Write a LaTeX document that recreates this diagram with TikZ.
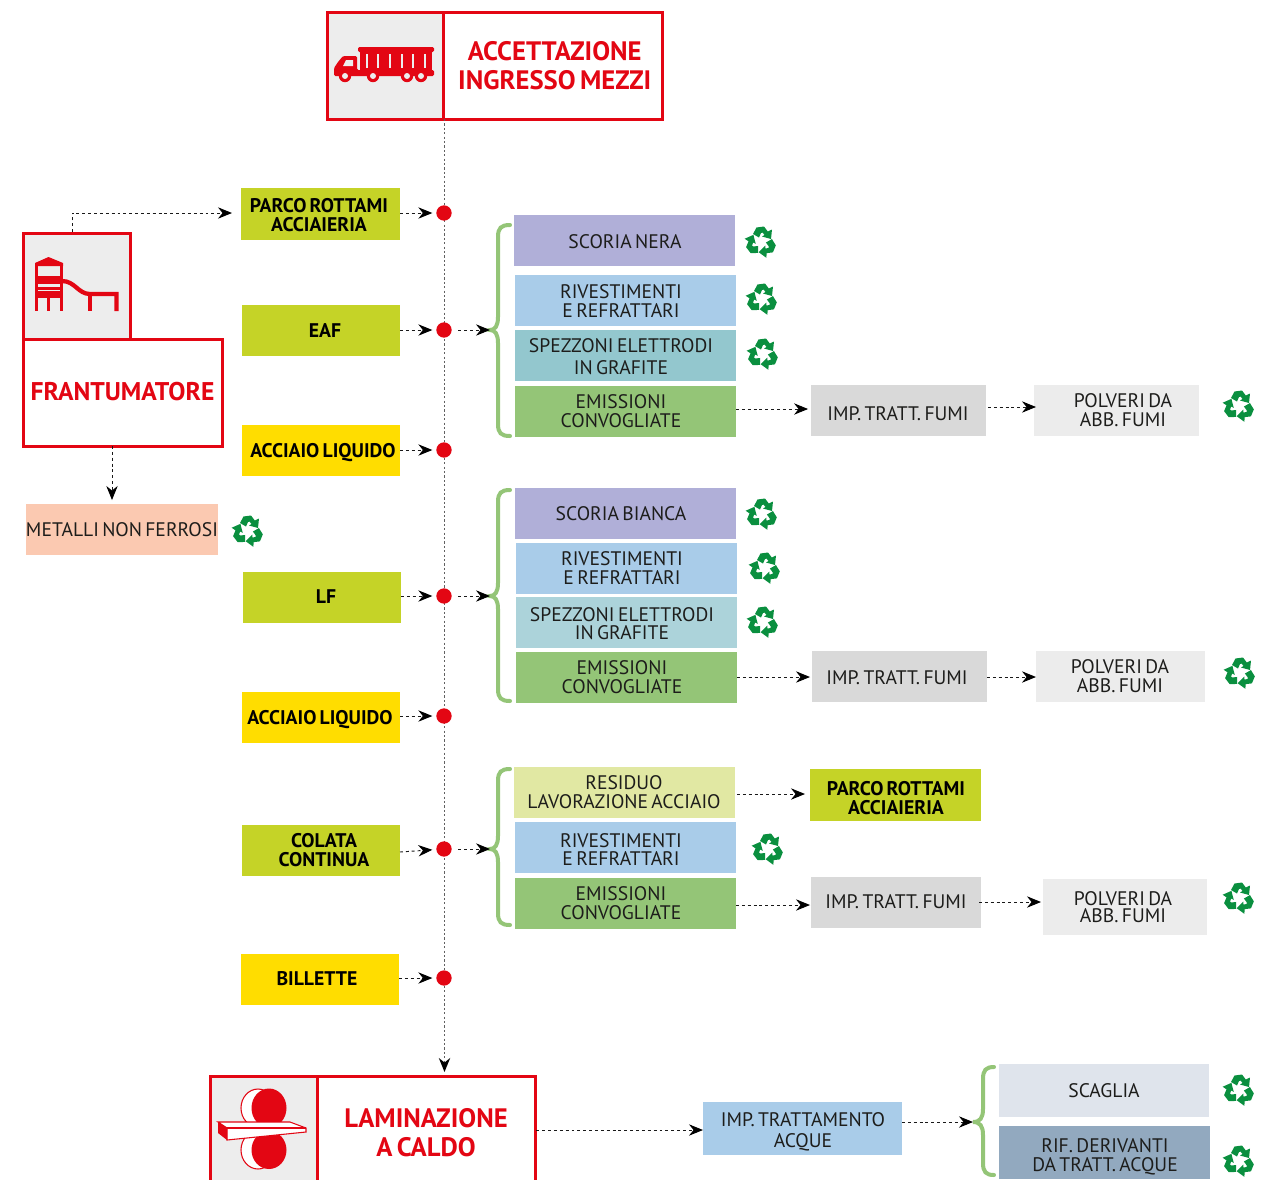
\documentclass[tikz,border=0pt]{standalone}
\usepackage{fontspec}
\setmainfont[WordSpace=0.65]{PT Sans}
\usetikzlibrary{arrows.meta,calc}
\definecolor{rd}{HTML}{E30613}
\definecolor{lime}{HTML}{C5D327}
\definecolor{yel}{HTML}{FFDD00}
\definecolor{lil}{HTML}{B0AFD8}
\definecolor{sky}{HTML}{A9CCE9}
\definecolor{teal1}{HTML}{93C7CE}
\definecolor{teal2}{HTML}{ACD3DA}
\definecolor{grn}{HTML}{94C577}
\definecolor{pale}{HTML}{E1E8A3}
\definecolor{gr1}{HTML}{D9D9D9}
\definecolor{gr2}{HTML}{ECECEC}
\definecolor{gr3}{HTML}{EDEDED}
\definecolor{peach}{HTML}{FBC9B1}
\definecolor{ice}{HTML}{DFE4EC}
\definecolor{steel}{HTML}{92A9BF}
\definecolor{rec}{HTML}{0A8F3F}
\definecolor{ink}{HTML}{1D1D1B}
\newcommand\reg{\fontsize{14.7}{14.25}\selectfont\color{ink}}
\newcommand\bld{\fontsize{14.8}{14.25}\bfseries\selectfont\color{black}}
\newcommand\ttl{\fontsize{20}{21.5}\bfseries\selectfont\color{rd}}
\tikzset{
 x=0.75pt,y=-0.75pt,
 bx/.style={rectangle,inner sep=0pt,outer sep=0pt,draw=none},
 redbox/.style={bx,draw=rd,line width=2.25pt},
 flow/.style={dash pattern=on 2.2pt off 2.2pt,line width=0.7pt,black!90,-{Stealth[length=10.5pt,width=8.5pt,fill=black,black]}},
 spine/.style={dash pattern=on 1.6pt off 1.7pt,line width=1.2pt,black!62,-{Stealth[length=10.5pt,width=8.5pt,fill=black,black]}},
 brc/.style={draw=grn,line width=3pt,line cap=round,fill=none},
 dot/.style={circle,fill=rd,inner sep=0pt,minimum size=11.5pt,outer sep=0pt},
 recy/.pic={
  \foreach \a in {0,120,240}{
   \fill[rec,rotate=\a] (-8,-8) -- (-4.5,-14.5) -- (3,-15.5) -- (6.8,-10.5) -- (11,-12.5) -- (10,-3) -- (1,-5.5) -- (3.5,-7) -- (1.5,-9.5) -- (0,-9) -- (-2,-4.5) -- cycle;
  }
 }
}
\def\bxD{0}
\newcommand\dy[1]{\gdef\bxD{#1}}
\newcommand\bx[9]{%
 \pgfmathsetlengthmacro\bxW{(#4-#2)*0.75pt}%
 \pgfmathsetlengthmacro\bxH{(#5-#3)*0.75pt}%
 \pgfmathsetlengthmacro\bxS{2*(#7-(#2+#4)/2)*0.75pt}%
 \pgfmathsetlengthmacro\bxP{2*\bxD*0.75pt}%
 \node[bx,fill=#6,minimum width=\bxW,minimum height=\bxH] (#1) at ({(#2+#4)/2},{(#3+#5)/2})
  {\makebox[\bxW]{\hspace*{\bxS}\raisebox{0pt}[\dimexpr\height+\bxP\relax][\depth]{\parbox[c]{\bxW}{\centering #8 #9}}}};%
 \gdef\bxD{0}%
}
\newcommand\rbx[7]{%
 \pgfmathsetlengthmacro\bxW{(#4-#2)*0.75pt}%
 \pgfmathsetlengthmacro\bxH{(#5-#3)*0.75pt}%
 \node[redbox,fill=#6,minimum width=\bxW,minimum height=\bxH] (#1) at ({(#2+#4)/2},{(#3+#5)/2})
  {\parbox[c]{\bxW}{\centering\ttl #7}};%
}
\newcommand\grbrace[7]{% name, x-tip, x-spine, x-end, ytop, ytip, ybottom
 \coordinate (#1) at (#2,#6);
 \draw[brc] (#4,#5) .. controls (#3+3,#5) and (#3,#5+3) .. (#3,#5+12)
   -- (#3,#6-13) .. controls (#3,#6-4) and (#3-3,#6) .. (#2,#6)
   .. controls (#3-3,#6) and (#3,#6+4) .. (#3,#6+13)
   -- (#3,#7-12) .. controls (#3,#7-3) and (#3+3,#7) .. (#4,#7);
}
% horizontal connector between two named nodes: from, to, y, shorten start, shorten end
\newcommand\hflow[5]{\draw[flow,shorten <=#4,shorten >=#5] (#1.east |- 0,#3) -- (#2.west |- 0,#3);}
\begin{document}
\begin{tikzpicture}
\useasboundingbox (0,0) rectangle (1278,1179);
\clip (0,0) rectangle (1278,1179);
% red header boxes
\rbx{acci}{327}{12}{443}{119}{gr3}{}
\rbx{acct}{443}{12}{662.5}{119}{white}{\hspace*{3pt}ACCETTAZIONE\\\hspace*{3pt}INGRESSO MEZZI}
\rbx{fric}{23}{233}{130}{339}{gr3}{}
\rbx{fran}{23}{339}{222}{446}{white}{\raisebox{1.5pt}{\fontsize{19.2}{21}\selectfont FRANTUMATORE}}
\rbx{lami}{210}{1076}{317}{1195}{gr3}{}
\rbx{lamt}{317}{1076}{535}{1189}{white}{LAMINAZIONE\\A CALDO}
% truck
\begin{scope}
 \fill[rd,rounded corners=1pt] (358,47) rectangle (434,52);
 \fill[rd] (360,50) rectangle (432,72);
 \foreach \s in {367,378,390,402,413,425}{\fill[gr3] (\s-1.2,54) rectangle (\s+1.2,68);}
 \fill[rd,rounded corners=1pt] (334,68) -- (338,62) -- (343,56) -- (357,56) -- (357,70) -- (434,70) -- (434,76) -- (334,76) -- cycle;
 \fill[gr3] (343,66) -- (346,60) -- (353,60) -- (353,66) -- cycle;
 \foreach \w in {345,373,407,421}{\fill[rd] (\w,76) circle[radius=6.2]; \fill[gr3] (\w,76) circle[radius=3];}
\end{scope}
% crusher / slide
\begin{scope}
 \fill[rd] (35,263) -- (48.5,257) -- (63,263) -- (63,266) -- (35,266) -- cycle;
 \fill[rd] (35,263) rectangle (38,311);
 \fill[rd] (60,263) rectangle (63,311);
 \fill[rd] (47,295) rectangle (50,311);
 \fill[rd] (35,276) rectangle (63,284);
 \fill[rd] (35,287) rectangle (63,297.5);
 \draw[gr3,line width=0.4pt] (38,290) -- (60,290);
 \draw[rd,line width=3.2pt] (62,281) .. controls (75,281) and (78,294) .. (90,294) -- (116.5,294) -- (116.5,311);
 \draw[rd,line width=3.2pt] (90,294) -- (90,311);
\end{scope}
% rollers
\begin{scope}
 \fill[white,draw=rd,line width=0.8pt] (258,1108) ellipse[x radius=17,y radius=19];
 \fill[rd] (269,1108) ellipse[x radius=17.5,y radius=19.5];
 \fill[white,draw=rd,line width=0.8pt] (258,1150) ellipse[x radius=17,y radius=19];
 \fill[rd] (269,1150) ellipse[x radius=17.5,y radius=19];
 \fill[white,draw=rd,line width=0.8pt] (218,1122) -- (290,1122) -- (306,1128) -- (306,1132) -- (227,1140) -- (227,1128) -- cycle;
 \draw[rd,line width=0.8pt] (227,1128) -- (306,1128);
 \fill[rd] (218,1122) -- (227,1128) -- (227,1140) -- (218,1133) -- cycle;
\end{scope}
% main column boxes
\dy{1}\bx{parco}{241}{188}{400}{240}{lime}{319}{\bld}{PARCO ROTTAMI\\ACCIAIERIA}
\bx{eaf}{242}{305}{400}{356}{lime}{325}{\bld}{EAF}
\dy{2}\bx{liq1}{242}{425}{400}{476}{yel}{323}{\bld}{ACCIAIO LIQUIDO}
\dy{-1}\bx{lf}{243}{572}{401}{623}{lime}{326}{\bld}{LF}
\dy{2}\bx{liq2}{242}{692}{400}{743}{yel}{320}{\bld}{ACCIAIO LIQUIDO}
\bx{cola}{242}{825}{400}{876}{lime}{324}{\bld}{COLATA\\CONTINUA}
\dy{-1}\bx{bill}{241}{954}{399}{1005}{yel}{317}{\bld}{BILLETTE}
\bx{meta}{26}{504}{218}{555}{peach}{122}{\reg}{METALLI NON FERROSI}
% EAF group
\dy{1}\bx{sn}{514}{215}{735}{266}{lil}{625}{\reg}{SCORIA NERA}
\dy{1}\bx{r1}{515}{275}{736}{326}{sky}{621}{\reg}{RIVESTIMENTI\\E REFRATTARI}
\dy{1}\bx{s1}{515}{330}{736}{381}{teal1}{621}{\reg}{SPEZZONI ELETTRODI\\[2.2pt]IN GRAFITE}
\bx{e1}{515}{386}{736}{437}{grn}{621}{\reg}{EMISSIONI\\CONVOGLIATE}
\dy{3}\bx{i1}{811}{385}{986}{436}{gr1}{898}{\reg}{IMP. TRATT. FUMI}
\bx{p1}{1034}{385}{1199}{436}{gr2}{1123}{\reg}{POLVERI DA\\ABB. FUMI}
% LF group
\bx{sb}{515}{488}{736}{539}{lil}{621}{\reg}{SCORIA BIANCA}
\bx{r2}{516}{543}{737}{594}{sky}{622}{\reg}{RIVESTIMENTI\\E REFRATTARI}
\dy{1}\bx{s2}{516}{597}{737}{648}{teal2}{622}{\reg}{SPEZZONI ELETTRODI\\[-0.7pt]IN GRAFITE}
\bx{e2}{516}{652}{737}{703}{grn}{622}{\reg}{EMISSIONI\\CONVOGLIATE}
\dy{1}\bx{i2}{812}{651}{987}{702}{gr1}{897}{\reg}{IMP. TRATT. FUMI}
\bx{p2}{1036}{651}{1205}{702}{gr2}{1120}{\reg}{POLVERI DA\\ABB. FUMI}
% colata group
\bx{res}{514}{767}{735}{818}{pale}{624}{\reg}{RESIDUO\\LAVORAZIONE ACCIAIO}
\dy{2}\bx{r3}{515}{822}{736}{873}{sky}{621}{\reg}{RIVESTIMENTI\\[-1.4pt]E REFRATTARI}
\bx{e3}{515}{878}{736}{929}{grn}{621}{\reg}{EMISSIONI\\CONVOGLIATE}
\dy{3}\bx{parco2}{810}{769}{981}{821}{lime}{896}{\bld}{PARCO ROTTAMI\\ACCIAIERIA}
\dy{-1}\bx{i3}{811}{877}{981}{928}{gr1}{896}{\reg}{IMP. TRATT. FUMI}
\bx{p3}{1043}{879}{1207}{935}{gr2}{1123}{\reg}{POLVERI DA\\[-1.2pt]ABB. FUMI}
% laminazione group
\dy{3}\bx{acque}{703}{1102}{902}{1155}{sky}{803}{\reg}{IMP. TRATTAMENTO\\[1.5pt]ACQUE}
\bx{scag}{999}{1064}{1209}{1117}{ice}{1104}{\reg}{SCAGLIA}
\dy{4}\bx{rif}{999}{1126}{1210}{1179}{steel}{1105}{\reg}{RIF. DERIVANTI\\DA TRATT. ACQUE}
% spine
\coordinate (top) at (444.5,119);
\draw[spine] (top) -- ($(top |- lamt.north)+(0,-4)$);
% dots
\foreach \n/\y in {d1/213,d2/330,d3/450,d4/596,d5/716,d6/849,d7/978}{\node[dot] (\n) at (444,\y) {};}
% braces
\grbrace{b1}{490}{498}{510}{225}{330}{436}
\grbrace{b2}{490}{498}{510}{490}{596}{701}
\grbrace{b3}{490}{498}{510}{769}{849}{925}
\grbrace{b4}{973}{983}{994}{1067}{1122}{1175}
% connectors
\coordinate (fup) at (72,232);
\draw[flow] (fup) |- ($(parco.west)+(-9,-1)$);
\coordinate (fdn) at (112,446);
\draw[flow] (fdn) -- ($(fdn |- meta.north)+(0,-4)$);
\foreach \a/\b in {parco/d1,eaf/d2,liq1/d3,lf/d4,liq2/d5,bill/d7}{
 \draw[flow,shorten >=3pt] (\a.east |- \b) -- (\b);
}
\draw[flow,shorten >=3pt] (cola.east) ++(0,1.5) -- (d6);
\foreach \a/\b in {d2/b1,d4/b2,d6/b3}{\draw[flow,shorten <=5pt] (\a) -- (\b);}
\hflow{e1}{i1}{409}{0pt}{2.2pt}
\hflow{i1}{p1}{407}{1.5pt}{-1.5pt}
\hflow{e2}{i2}{677}{0pt}{1.5pt}
\hflow{i2}{p2}{677}{0pt}{0pt}
\hflow{res}{parco2}{794}{1.5pt}{3.75pt}
\hflow{e3}{i3}{905}{0pt}{0.75pt}
\hflow{i3}{p3}{902}{-1.5pt}{1.5pt}
\hflow{lamt}{acque}{1130}{1pt}{0pt}
\draw[flow] (acque.east |- b4) -- (b4);
% recycling icons
\foreach \x/\y in {761/242,762/299,763/354,1239/406,248/531,762/514,765/568,763/622,1240/673,768/849,1239/898,1239/1090,1239/1161}{
 \pic at (\x,\y) {recy};
}
\end{tikzpicture}
\end{document}
